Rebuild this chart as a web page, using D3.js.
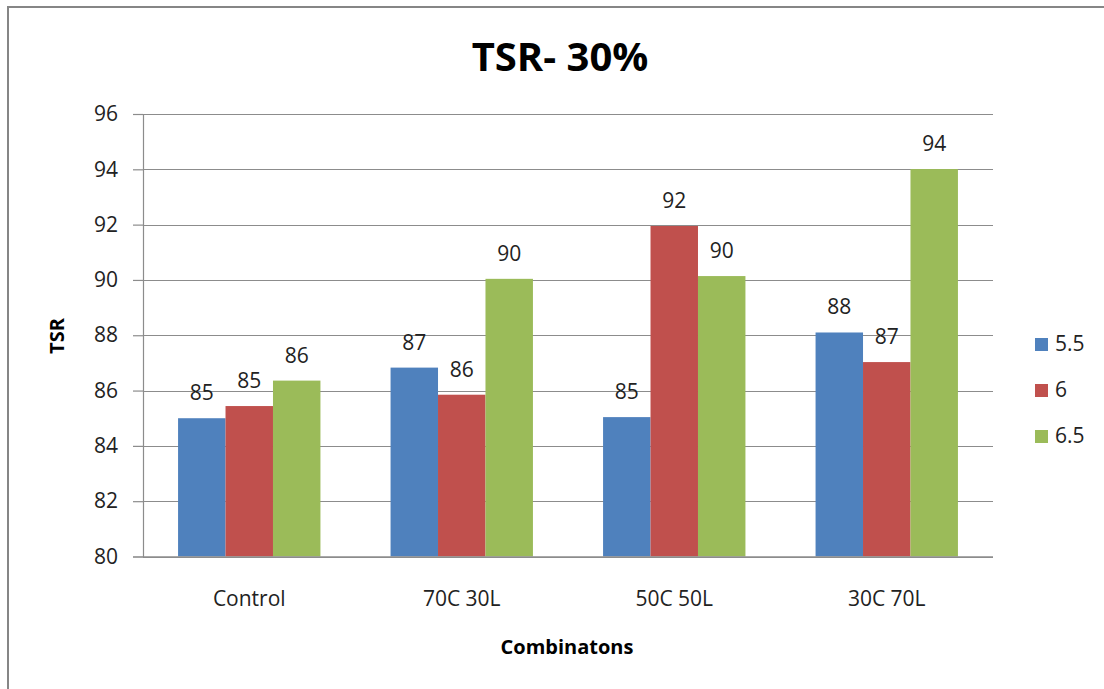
<!DOCTYPE html>
<html>
<head>
<meta charset="utf-8">
<script src="https://cdn.jsdelivr.net/npm/d3@7"></script>
<style>
  html, body { margin: 0; padding: 0; background: #fff; }
  svg { display: block; font-family: "Open Sans", "Noto Sans", sans-serif; }
</style>
</head>
<body>
<svg id="chart" width="1104" height="689"></svg>
<script>
// Chart data
const categories = ["Control", "70C 30L", "50C 50L", "30C 70L"];
const seriesNames = ["5.5", "6", "6.5"];
const values55 = [85.0, 86.83, 85.04, 88.1];
const values6 = [85.44, 85.85, 91.95, 87.03];
const values65 = [86.36, 90.04, 90.14, 94.01];
const yTicks = [80, 82, 84, 86, 88, 90, 92, 94, 96];
const colors = ["#4F81BD", "#C0504D", "#9BBB59"];

const seriesValues = [values55, values6, values65];

const svg = d3.select("#chart");
const W = 1104, H = 689;

// Outer chart frame
svg.append("rect")
  .attr("x", 8).attr("y", 7)
  .attr("width", W + 10).attr("height", H + 10)
  .attr("fill", "#fff")
  .attr("stroke", "#868686").attr("stroke-width", 2);

const plot = { left: 143, right: 993, top: 114, bottom: 556.5 };

const y = d3.scaleLinear().domain([80, 96]).range([plot.bottom, plot.top]);
const x0 = d3.scaleBand().domain(categories).range([plot.left, plot.right]).padding(0);
const gap = x0.bandwidth() * 0.165;
const x1 = d3.scaleBand().domain(seriesNames).range([gap, x0.bandwidth() - gap]).padding(0);

// Horizontal gridlines
svg.append("g")
  .selectAll("line")
  .data(yTicks)
  .join("line")
  .attr("x1", plot.left).attr("x2", plot.right)
  .attr("y1", d => Math.round(y(d)) + 0.5).attr("y2", d => Math.round(y(d)) + 0.5)
  .attr("stroke", "#8c8c8c").attr("stroke-width", 1.2);

// Y axis
const yAxis = d3.axisLeft(y).tickValues(yTicks).tickSize(10).tickPadding(15).tickFormat(d3.format("d"));
const gy = svg.append("g")
  .attr("transform", `translate(${plot.left},0)`)
  .call(yAxis);
gy.select(".domain").attr("stroke", "#8c8c8c").attr("stroke-width", 1.2);
gy.selectAll(".tick line").attr("stroke", "#8c8c8c").attr("stroke-width", 1.2);
gy.selectAll(".tick text")
  .attr("font-family", "Open Sans, sans-serif")
  .attr("font-size", 21).attr("fill", "#222");

// Bars
const groups = svg.append("g")
  .selectAll("g")
  .data(categories)
  .join("g")
  .attr("transform", c => `translate(${x0(c)},0)`);

const barData = (c, ci) => seriesNames.map((s, si) => ({ series: s, si, value: seriesValues[si][ci] }));

groups.each(function (c, ci) {
  const g = d3.select(this);
  const data = barData(c, ci);
  g.selectAll("rect")
    .data(data)
    .join("rect")
    .attr("x", d => x1(d.series))
    .attr("width", x1.bandwidth())
    .attr("y", d => y(d.value))
    .attr("height", d => y(80) - y(d.value))
    .attr("fill", d => colors[d.si]);

  g.selectAll("text")
    .data(data)
    .join("text")
    .attr("x", d => x1(d.series) + x1.bandwidth() / 2)
    .attr("y", d => y(d.value) - 18)
    .attr("text-anchor", "middle")
    .attr("font-size", 21)
    .attr("fill", "#222")
    .text(d => d3.format(".0f")(d.value));
});

// X axis baseline
svg.append("line")
  .attr("x1", plot.left).attr("x2", plot.right)
  .attr("y1", plot.bottom + 0.5).attr("y2", plot.bottom + 0.5)
  .attr("stroke", "#8c8c8c").attr("stroke-width", 1.4);

// Category labels
svg.append("g")
  .selectAll("text")
  .data(categories)
  .join("text")
  .attr("x", c => x0(c) + x0.bandwidth() / 2)
  .attr("y", 606)
  .attr("text-anchor", "middle")
  .attr("font-size", 21)
  .attr("fill", "#222")
  .text(c => c);

// Title
svg.append("text")
  .attr("x", 560).attr("y", 71)
  .attr("text-anchor", "middle")
  .attr("font-size", 40).attr("font-weight", "bold")
  .attr("fill", "#000")
  .text("TSR- 30%");

// Axis titles
svg.append("text")
  .attr("transform", "translate(64,336) rotate(-90)")
  .attr("text-anchor", "middle")
  .attr("font-size", 20).attr("font-weight", "bold")
  .attr("fill", "#000")
  .text("TSR");

svg.append("text")
  .attr("x", 567).attr("y", 654)
  .attr("text-anchor", "middle")
  .attr("font-size", 20).attr("font-weight", "bold")
  .attr("fill", "#000")
  .text("Combinatons");

// Legend
const legend = svg.append("g")
  .selectAll("g")
  .data(seriesNames)
  .join("g")
  .attr("transform", (d, i) => `translate(1035,${338 + i * 46})`);
legend.append("rect")
  .attr("width", 13).attr("height", 13)
  .attr("fill", (d, i) => colors[i]);
legend.append("text")
  .attr("x", 20).attr("y", 13)
  .attr("font-size", 21)
  .attr("fill", "#222")
  .text(d => d);
</script>
</body>
</html>
